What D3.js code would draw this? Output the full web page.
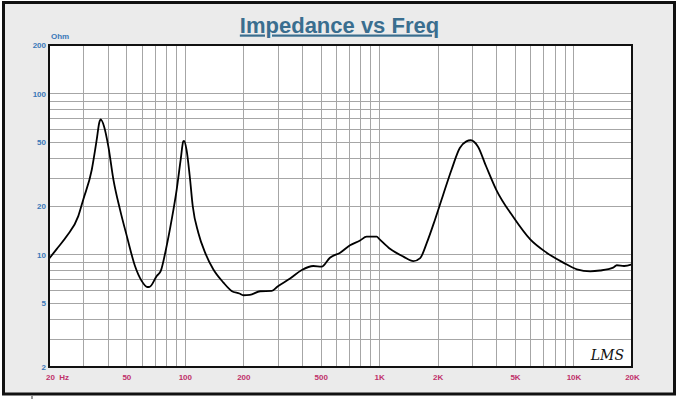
<!DOCTYPE html>
<html>
<head>
<meta charset="utf-8">
<script src="https://cdn.jsdelivr.net/npm/d3@7"></script>
<style>
  html, body { margin: 0; padding: 0; background: #fff; }
  svg { display: block; font-family: "Liberation Sans", Arial, sans-serif; }
</style>
</head>
<body>
<svg id="chart" width="680" height="399"></svg>
<script>
// measured impedance curve (Hz, Ohm)
const freq = [20, 21.9, 24.7, 28.3, 30, 33.2, 35.2, 36.3, 36.9, 38.4, 40.4, 42.9, 46.4, 50.3, 55.4, 60,
  64.1, 65.9, 71.7, 75.2, 80, 85.6, 90.8, 95.2, 98.2, 99, 102, 106, 109.8, 117.4, 127, 140, 158, 174,
  191, 200, 216, 244, 280, 300, 348, 400, 458, 506, 558, 630, 708, 797, 862, 972, 1000, 1141, 1333,
  1500, 1626, 1758, 1939, 2137, 2357, 2600, 2810, 2960, 3220, 3550, 4000, 4930, 5990, 7270, 8860,
  10400, 12190, 13700, 16000, 16700, 18200, 20000];
const ohm = [9.4, 10.8, 13.0, 17.3, 21.9, 33.6, 51.6, 66, 69, 62.4, 46.9, 29.2, 19.0, 13.0, 8.48, 6.84,
  6.28, 6.3, 7.35, 7.9, 10.8, 16.5, 25.3, 38.8, 50.4, 50.7, 44.8, 30.6, 20, 13.6, 10.3, 8.09, 6.69, 5.94,
  5.72, 5.58, 5.61, 5.91, 5.94, 6.32, 7.08, 8.0, 8.48, 8.4, 9.55, 10.26, 11.4, 12.2, 12.9, 12.9, 12.5, 10.8, 9.7,
  9.1, 9.5, 11.8, 16.5, 23.6, 33.6, 45.8, 50.4, 51.2, 46.9, 35.3, 25.3, 16.9, 12.4, 10.26, 8.9,
  8.09, 7.86, 7.95, 8.28, 8.57, 8.48, 8.69];

const xTickVals = [20, 50, 100, 200, 500, 1000, 2000, 5000, 10000, 20000];
const xTickLabels = ["20\u00a0\u00a0Hz", "50", "100", "200", "500", "1K", "2K", "5K", "10K", "20K"];
const yTickVals = [2, 5, 10, 20, 50, 100, 200];
const yTickLabels = ["2", "5", "10", "20", "50", "100", "200"];

const data = freq.map((f, i) => ({ f: f, z: ohm[i] }));

const svg = d3.select("#chart");
const margin = { left: 49, top: 45, right: 48, bottom: 32 };
const width = 680 - margin.left - margin.right;
const height = 399 - margin.top - margin.bottom;

// outer panel
svg.append("rect")
  .attr("x", 3.5).attr("y", 2.5)
  .attr("width", 671).attr("height", 391.5)
  .attr("fill", "#ebebeb")
  .attr("stroke", "#111")
  .attr("stroke-width", 3);
svg.append("line")
  .attr("x1", 32).attr("x2", 32).attr("y1", 396).attr("y2", 399)
  .attr("stroke", "#333");

// title
svg.append("text")
  .attr("x", 339.5).attr("y", 32.5)
  .attr("text-anchor", "middle")
  .attr("font-size", 22).attr("font-weight", "bold")
  .attr("fill", "#3a6e8f")
  .attr("text-decoration", "underline")
  .text("Impedance vs Freq");

const g = svg.append("g").attr("transform", `translate(${margin.left},${margin.top})`);

const x = d3.scaleLog().domain([20, 20000]).range([0, width]);
const y = d3.scaleLog().domain([2, 200]).range([height, 0]);

g.append("rect")
  .attr("width", width).attr("height", height)
  .attr("fill", "#fff");

// grid
g.append("g")
  .attr("class", "grid")
  .selectAll("line.gx")
  .data(x.ticks())
  .enter().append("line")
  .attr("x1", d => Math.round(x(d)) + 0.5).attr("x2", d => Math.round(x(d)) + 0.5)
  .attr("y1", 0).attr("y2", height)
  .attr("stroke", "#a6a6a6").attr("stroke-width", 1);

g.append("g")
  .attr("class", "grid")
  .selectAll("line.gy")
  .data(y.ticks())
  .enter().append("line")
  .attr("x1", 0).attr("x2", width)
  .attr("y1", d => Math.round(y(d)) + 0.5).attr("y2", d => Math.round(y(d)) + 0.5)
  .attr("stroke", "#a6a6a6").attr("stroke-width", 1);

// axes labels
const xAxis = d3.axisBottom(x)
  .tickValues(xTickVals)
  .tickFormat((d, i) => xTickLabels[i])
  .tickSize(0).tickPadding(7);

g.append("g")
  .attr("transform", `translate(0,${height})`)
  .call(xAxis)
  .call(a => a.select(".domain").remove())
  .selectAll("text")
  .attr("font-family", "\"Liberation Sans\", Arial, sans-serif")
  .attr("font-size", 8).attr("font-weight", "bold")
  .attr("fill", "#c0306a")
  .attr("text-anchor", (d, i) => i === 0 ? "start" : "middle")
  .attr("dx", (d, i) => i === 0 ? -3.5 : 0);

const yAxis = d3.axisLeft(y)
  .tickValues(yTickVals)
  .tickFormat((d, i) => yTickLabels[i])
  .tickSize(0).tickPadding(3);

g.append("g")
  .call(yAxis)
  .call(a => a.select(".domain").remove())
  .selectAll("text")
  .attr("font-family", "\"Liberation Sans\", Arial, sans-serif")
  .attr("font-size", 8).attr("font-weight", "bold")
  .attr("fill", "#3a78b8");

g.append("text")
  .attr("x", 2).attr("y", -6)
  .attr("font-size", 8).attr("font-weight", "bold")
  .attr("fill", "#3a78b8")
  .text("Ohm");

// impedance curve
const line = d3.line()
  .x(d => x(d.f))
  .y(d => y(d.z))
  .curve(d3.curveMonotoneX);

g.append("path")
  .datum(data)
  .attr("fill", "none")
  .attr("stroke", "#000")
  .attr("stroke-width", 1.8)
  .attr("stroke-linejoin", "round")
  .attr("d", line);

// plot frame
g.append("rect")
  .attr("width", width).attr("height", height)
  .attr("fill", "none")
  .attr("stroke", "#111")
  .attr("stroke-width", 2);

// LMS mark
g.append("text")
  .attr("x", width - 8).attr("y", height - 7)
  .attr("text-anchor", "end")
  .attr("font-family", "\"DejaVu Serif\", serif")
  .attr("font-style", "italic")
  .attr("font-size", 14)
  .attr("fill", "#111")
  .text("LMS");
</script>
</body>
</html>
